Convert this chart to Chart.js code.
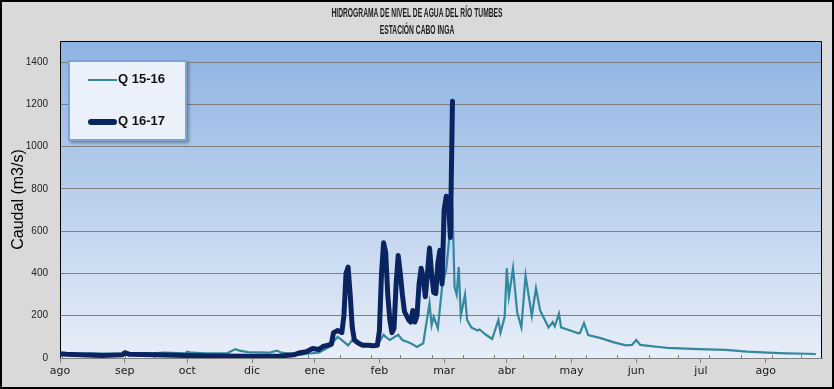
<!DOCTYPE html>
<html>
<head>
<meta charset="utf-8">
<script src="https://cdn.jsdelivr.net/npm/chart.js@4"></script>
<style>
  body { margin: 0; background: #d9d9d9; }
  #wrap { position: relative; width: 834px; height: 389px; }
  #frame { position: absolute; left: 0; top: 0; width: 834px; height: 389px; box-sizing: border-box; border: 2px solid #000; pointer-events: none; }
  .title { position: absolute; left: 0; width: 834px; text-align: center; font: bold 12px 'Liberation Sans', sans-serif; color: #1a1a1a; transform: scaleX(0.56); transform-origin: 417px 0; }
  #legend { position: absolute; left: 68px; top: 60px; width: 115px; height: 77px; border: 2px solid #7ea3d8; background: #eaf1fa; box-shadow: 2px 2px 3px rgba(0,0,0,0.35); }
  .item { position: absolute; left: 18px; font: bold 13px 'Liberation Sans', sans-serif; color: #111; }
  .swatch { display: inline-block; width: 29px; vertical-align: middle; margin-right: 1px; }
</style>
</head>
<body>
<div id="wrap">
  <canvas id="chart" width="834" height="389"></canvas>
  <div class="title" style="top:6px">HIDROGRAMA DE NIVEL DE AGUA DEL RÍO TUMBES</div>
  <div class="title" style="top:23px">ESTACIÓN CABO INGA</div>
  <div id="legend">
    <div class="item" style="top:9px"><span class="swatch" style="height:2px;background:#3388a0"></span>Q 15-16</div>
    <div class="item" style="top:51px"><span class="swatch" style="height:6px;border-radius:3px;background:#0a2462"></span>Q 16-17</div>
  </div>
  <div id="frame"></div>
</div>
<script>
// days counted from 1 August
const q1516Days = [0,10,15,25,40,50,60,61,63,70,80,84,86,90,100,104,106,115,118,124,129,133,135,138,140,142,145,152,155,156,158,162,164,168,171,174,177,178,179,181,183,185,188,189,190,191,192,194,195,197,200,201,204,207,210,211,213,214,215,217,219,221,223,226,228,230,234,236,237,239,240,243,248,249,251,253,259,265,271,274,276,278,283,287,291,306,319,329,339,348,358,362];
const q1516Values = [18,20,22,20,20,25,22,30,25,22,22,42,35,28,25,35,25,15,20,25,52,100,85,60,85,70,65,60,110,100,85,110,85,70,52,70,260,155,195,140,335,420,720,335,300,430,200,300,180,145,130,135,110,90,180,120,195,425,290,425,215,145,390,200,330,225,145,170,150,210,145,135,118,118,165,108,94,75,60,62,85,62,56,52,48,42,38,30,25,22,20,18];

const q1617Days = [0,3,10,20,30,31,33,45,60,75,90,105,108,112,115,118,121,124,126,128,130,131,133,135,136,137,138,139,140,141,143,145,148,150,152,153,154,155,156,157,158,159,160,161,162,163,164,165,167,168,169,170,171,172,173,174,175,176,177,178,179,180,181,182,183,184,185,186,187,188];
const q1617Values = [20,18,15,12,15,25,18,15,12,10,8,8,12,15,25,30,45,40,55,60,65,120,130,120,200,400,430,300,145,85,70,60,60,58,60,130,400,545,500,300,180,120,140,350,485,400,300,220,180,170,225,170,200,350,425,380,290,400,520,400,310,305,450,510,350,700,765,760,570,1215];

const monthTicks = [0,31,61,92,122,153,184,214,245,276,307,338];
const monthLabels = ['ago','sep','oct','dic','ene','feb','mar','abr','may','jun','jul','ago'];
const minorTicks = [1,16,31,45,60,75,90,104,119,134,149,163,178,193,208,222,237,252,267,282,296,311,326,341,355];
const yTicks = [0,200,400,600,800,1000,1200,1400];

const toPoints = (days, vals) => days.map((d, i) => ({ x: d, y: vals[i] }));

const plotBackground = {
  id: 'plotBackground',
  beforeDraw(chart) {
    const { ctx, chartArea: a } = chart;
    const g = ctx.createLinearGradient(0, a.top, 0, a.bottom);
    g.addColorStop(0, '#8db3e2');
    g.addColorStop(1, '#e8eef8');
    ctx.save();
    ctx.fillStyle = g;
    ctx.fillRect(a.left, a.top, a.right - a.left, a.bottom - a.top);
    ctx.restore();
  },
  beforeDatasetsDraw(chart) {
    const { ctx, chartArea: a, scales } = chart;
    ctx.save();
    ctx.strokeStyle = '#808080';
    ctx.lineWidth = 1;
    minorTicks.forEach(d => {
      const x = Math.round(scales.x.getPixelForValue(d)) + 0.5;
      ctx.beginPath();
      ctx.moveTo(x, a.bottom);
      ctx.lineTo(x, a.bottom - 3);
      ctx.stroke();
    });
    ctx.strokeStyle = '#000';
    ctx.beginPath();
    ctx.moveTo(a.left + 0.5, a.bottom);
    ctx.lineTo(a.left + 0.5, a.top + 0.5);
    ctx.lineTo(a.right - 0.5, a.top + 0.5);
    ctx.lineTo(a.right - 0.5, a.bottom);
    ctx.stroke();
    ctx.restore();
  }
};

new Chart(document.getElementById('chart'), {
  type: 'line',
  data: {
    datasets: [
      {
        label: 'Q 16-17',
        data: toPoints(q1617Days, q1617Values),
        borderColor: '#0a2462',
        borderWidth: 5,
        borderJoinStyle: 'round',
        borderCapStyle: 'round',
        pointRadius: 0,
        tension: 0,
        order: 0,
      },
      {
        label: 'Q 15-16',
        data: toPoints(q1516Days, q1516Values),
        borderColor: '#3388a0',
        borderWidth: 2.2,
        pointRadius: 0,
        tension: 0,
        order: 1,
      },
    ],
  },
  options: {
    responsive: false,
    animation: false,
    layout: { padding: { top: 41, right: 12, left: 0, bottom: 0 } },
    plugins: { legend: { display: false }, tooltip: { enabled: false } },
    scales: {
      x: {
        type: 'linear',
        min: 0,
        max: 365,
        afterFit: s => { s.height = 31; },
        afterBuildTicks: s => { s.ticks = monthTicks.map(v => ({ value: v })); },
        ticks: {
          autoSkip: false,
          maxRotation: 0,
          padding: 2,
          color: '#1a1a1a',
          font: { family: 'DejaVu Sans', size: 11 },
          callback: (v, i) => monthLabels[i],
        },
        grid: { drawOnChartArea: false, drawTicks: true, tickLength: 5, color: '#808080' },
        border: { color: '#808080' },
      },
      y: {
        min: 0,
        max: 1500,
        afterFit: s => { s.width = 60; },
        afterBuildTicks: s => { s.ticks = yTicks.map(v => ({ value: v })); },
        ticks: {
          padding: 12,
          color: '#222',
          font: { family: 'Liberation Sans', size: 10 },
          callback: v => String(v),
        },
        grid: { color: '#808080', drawTicks: false },
        border: { display: false },
        title: {
          display: true,
          text: 'Caudal (m3/s)',
          color: '#000',
          font: { family: 'Liberation Sans', size: 16 },
          padding: { top: 9, bottom: 0 },
        },
      },
    },
  },
  plugins: [plotBackground],
});
</script>
</body>
</html>
